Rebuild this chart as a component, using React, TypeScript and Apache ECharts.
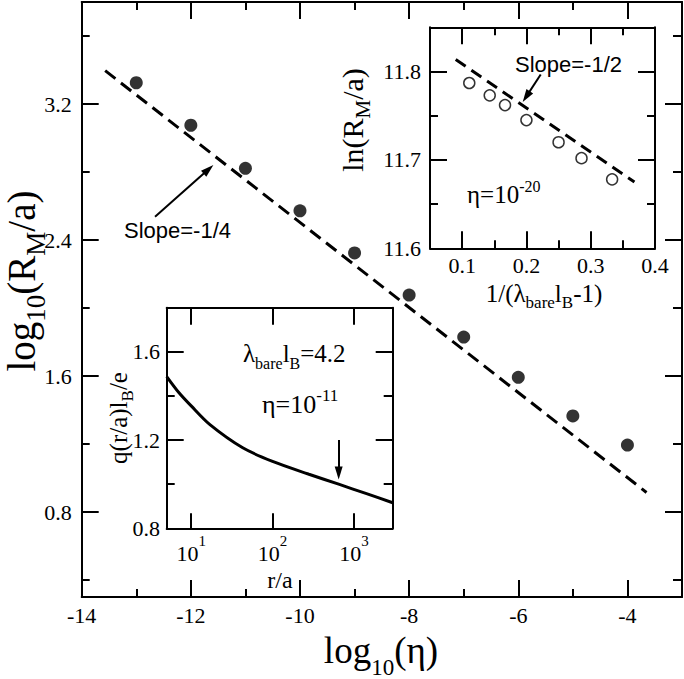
import React, { useEffect, useRef } from 'react';
import * as echarts from 'echarts';

const SERIF = 'Liberation Serif';
const SANS = 'Liberation Sans';
const BLACK = '#000';

// ---------- main plot ----------
const etaLog = [-13, -12, -11, -10, -9, -8, -7, -6, -5, -4];
const logRM = [3.325, 3.075, 2.822, 2.572, 2.324, 2.076, 1.829, 1.592, 1.365, 1.194];
const mainFitX = [-13.57, -3.65];
const mainFitY = [3.396, 0.915];
const mainXTicks = [-14, -12, -10, -8, -6, -4];
const mainXMinor = [-13, -11, -9, -7, -5];
const mainYTicks = [0.8, 1.6, 2.4, 3.2];
const mainYMinor = [0.4, 1.2, 2.0, 2.8, 3.6];
// arrow: [start, tip]
const mainArrowX = [-12.656, -11.587];
const mainArrowY = [2.537, 2.841];

// ---------- inset 1 (top right) ----------
const invLambda = [0.1111, 0.1429, 0.1667, 0.2, 0.25, 0.2857, 0.3333];
const lnRM = [11.787, 11.773, 11.762, 11.745, 11.72, 11.702, 11.678];
const in1FitX = [0.09, 0.368];
const in1FitY = [11.8135, 11.675];
const in1XTicks = [0.1, 0.2, 0.3, 0.4];
const in1XMinor = [0.15, 0.25, 0.35];
const in1YTicks = [11.6, 11.7, 11.8];
const in1YMinor = [11.65, 11.75];
const in1ArrowX = [0.2222, 0.1942];
const in1ArrowY = [11.7966, 11.7654];

// ---------- inset 2 (bottom left) ----------
const rOverA = [5, 7, 10, 17, 43, 100, 280, 650, 1400, 3000];
const qCharge = [1.488, 1.417, 1.355, 1.27, 1.165, 1.103, 1.045, 1.0, 0.958, 0.916];
const in2XTicks = [10, 100, 1000];
const in2YTicks = [0.8, 1.2, 1.6];
const in2YMinor = [1.0, 1.4];
const in2ArrowR = [650, 650];
const in2ArrowQ = [1.2, 1.021];

// ---------- helpers ----------
let ctx2d: CanvasRenderingContext2D | null = null;
function textWidth(t: string, size: number, fam: string) {
  if (!ctx2d) ctx2d = document.createElement('canvas').getContext('2d');
  ctx2d!.font = `${size}px "${fam}"`;
  return ctx2d!.measureText(t).width;
}
type Piece = { t: string; s: number; dy?: number; fam?: string };
function run(pieces: Piece[], x: number, y: number, opts: { center?: boolean; rotate?: boolean } = {}) {
  let cx = 0;
  const kids: any[] = pieces.map((p) => {
    const fam = p.fam || SERIF;
    const k = fam === SANS ? 0.3465 : 0.3375;
    const w = textWidth(p.t, p.s, fam);
    const el = {
      type: 'text',
      x: cx,
      y: (p.dy || 0) - k * p.s,
      silent: true,
      style: { text: p.t, fontSize: p.s, fontFamily: fam, fill: BLACK, align: 'left', verticalAlign: 'middle' },
    };
    cx += w;
    return el;
  });
  if (opts.center) kids.forEach((k) => (k.x -= cx / 2));
  return { type: 'group', x, y, rotation: opts.rotate ? Math.PI / 2 : 0, silent: true, children: kids };
}

function axis(gridIndex: number, position: string, min: number, max: number, values: number[], len: number, line: boolean, label?: any) {
  return {
    type: 'value',
    gridIndex,
    position,
    min,
    max,
    axisLine: { show: line, onZero: false, lineStyle: { color: BLACK, width: 2 } },
    axisTick: { show: true, inside: true, length: len, customValues: values, lineStyle: { color: BLACK, width: 2 } },
    axisLabel: label
      ? { show: true, customValues: values, color: BLACK, fontFamily: SERIF, fontSize: 22, ...label }
      : { show: false },
    splitLine: { show: false },
    axisPointer: { show: false },
  };
}

const fix1 = (v: number) => v.toFixed(1);

export default function App() {
  const ref = useRef<HTMLDivElement>(null);
  useEffect(() => {
    const chart = echarts.init(ref.current!, null, { renderer: 'svg' });
    const lx = (v: number) => Math.log10(v);
    const in2Min = lx(5);
    const in2Max = lx(3000);

    const option: any = {
      animation: false,
      backgroundColor: '#fff',
      textStyle: { fontFamily: SERIF, color: BLACK },
      grid: [
        { left: 81.7, top: 2, width: 600.3, height: 595, outerBoundsMode: 'none', containLabel: false },
        { left: 430, top: 27.3, width: 225, height: 221, outerBoundsMode: 'none', containLabel: false },
        { left: 166.7, top: 307.7, width: 226, height: 220.6, outerBoundsMode: 'none', containLabel: false },
      ],
      xAxis: [
        axis(0, 'bottom', -14, -3, mainXTicks, 17, true, { margin: 7, formatter: (v: number) => String(v) }),
        axis(0, 'bottom', -14, -3, mainXMinor, 8, false),
        axis(0, 'top', -14, -3, mainXTicks, 17, true),
        axis(0, 'top', -14, -3, mainXMinor, 8, false),
        axis(1, 'bottom', 0.05, 0.4, in1XTicks, 17, true, { margin: 6.5, formatter: fix1 }),
        axis(1, 'bottom', 0.05, 0.4, in1XMinor, 8, false),
        axis(1, 'top', 0.05, 0.4, in1XTicks, 17, true),
        axis(1, 'top', 0.05, 0.4, in1XMinor, 8, false),
        axis(2, 'bottom', in2Min, in2Max, in2XTicks.map(lx), 15, true, {
          margin: 14,
          formatter: (v: number) => `{b|10}{s|${Math.round(v)}}`,
          rich: {
            b: { fontSize: 22, fontFamily: SERIF, color: BLACK, lineHeight: 22 },
            s: { fontSize: 15, fontFamily: SERIF, color: BLACK, lineHeight: 15, padding: [0, 0, 25, 0] },
          },
        }),
        axis(2, 'top', in2Min, in2Max, in2XTicks.map(lx), 17, true),
      ],
      yAxis: [
        axis(0, 'left', 0.3, 3.8, mainYTicks, 17, true, { margin: 10, formatter: fix1 }),
        axis(0, 'left', 0.3, 3.8, mainYMinor, 8, false),
        axis(0, 'right', 0.3, 3.8, mainYTicks, 17, true),
        axis(0, 'right', 0.3, 3.8, mainYMinor, 9, false),
        axis(1, 'left', 11.6, 11.85, in1YTicks, 17, true, { margin: 9, formatter: fix1 }),
        axis(1, 'left', 11.6, 11.85, in1YMinor, 8, false),
        axis(1, 'right', 11.6, 11.85, in1YTicks, 17, true),
        axis(1, 'right', 11.6, 11.85, in1YMinor, 8, false),
        axis(2, 'left', 0.8, 1.8, in2YTicks, 17, true, { margin: 6.7, formatter: fix1 }),
        axis(2, 'left', 0.8, 1.8, in2YMinor, 8, false),
        axis(2, 'right', 0.8, 1.8, in2YTicks, 17, true),
        axis(2, 'right', 0.8, 1.8, in2YMinor, 9, false),
      ],
      series: [
        {
          id: 'mainFit',
          type: 'line',
          xAxisIndex: 0,
          yAxisIndex: 0,
          data: mainFitX.map((x, i) => [x, mainFitY[i]]),
          symbol: 'none',
          lineStyle: { color: BLACK, width: 3, type: [13, 7] },
          emphasis: { disabled: true },
          z: 2,
        },
        {
          type: 'scatter',
          xAxisIndex: 0,
          yAxisIndex: 0,
          data: etaLog.map((x, i) => [x, logRM[i]]),
          symbol: 'circle',
          symbolSize: 13,
          itemStyle: { color: BLACK },
          emphasis: { disabled: true },
          z: 3,
        },
        {
          id: 'in1Fit',
          type: 'line',
          xAxisIndex: 4,
          yAxisIndex: 4,
          data: in1FitX.map((x, i) => [x, in1FitY[i]]),
          symbol: 'none',
          lineStyle: { color: BLACK, width: 3, type: [12, 7] },
          emphasis: { disabled: true },
          z: 2,
        },
        {
          type: 'scatter',
          xAxisIndex: 4,
          yAxisIndex: 4,
          data: invLambda.map((x, i) => [x, lnRM[i]]),
          symbol: 'circle',
          symbolSize: 11,
          itemStyle: { color: '#fff', borderColor: BLACK, borderWidth: 1.5 },
          emphasis: { disabled: true },
          z: 3,
        },
        {
          id: 'in2Curve',
          type: 'line',
          xAxisIndex: 8,
          yAxisIndex: 8,
          data: rOverA.map((r, i) => [lx(r), qCharge[i]]),
          symbol: 'none',
          smooth: 0.3,
          lineStyle: { color: BLACK, width: 3 },
          emphasis: { disabled: true },
          z: 2,
        },
      ],
      graphic: {
        elements: [
          run(
            [
              { t: 'log', s: 39 },
              { t: '10', s: 27, dy: 10 },
              { t: '(R', s: 39 },
              { t: 'M', s: 27, dy: 10 },
              { t: '/a)', s: 39 },
            ],
            35,
            281,
            { center: true, rotate: true }
          ),
          run(
            [
              { t: 'log', s: 37 },
              { t: '10', s: 23, dy: 12 },
              { t: '(η)', s: 37 },
            ],
            381,
            663,
            { center: true }
          ),
          run([{ t: 'Slope=-1/4', s: 22, fam: SANS }], 124, 238),
          run([{ t: 'Slope=-1/2', s: 22, fam: SANS }], 515, 72),
          run(
            [
              { t: 'ln(R', s: 30 },
              { t: 'M', s: 21, dy: 7 },
              { t: '/a)', s: 30 },
            ],
            363,
            120,
            { center: true, rotate: true }
          ),
          run(
            [
              { t: '1/(λ', s: 25 },
              { t: 'bare', s: 17, dy: 6 },
              { t: 'l', s: 25 },
              { t: 'B', s: 17, dy: 6 },
              { t: '-1)', s: 25 },
            ],
            544,
            302,
            { center: true }
          ),
          run(
            [
              { t: 'η=10', s: 25 },
              { t: '-20', s: 16, dy: -11 },
            ],
            467,
            203
          ),
          run(
            [
              { t: 'λ', s: 25 },
              { t: 'bare', s: 16, dy: 7 },
              { t: 'l', s: 25 },
              { t: 'B', s: 16, dy: 7 },
              { t: '=4.2', s: 25 },
            ],
            243,
            362
          ),
          run(
            [
              { t: 'η=10', s: 26 },
              { t: '-11', s: 17, dy: -12 },
            ],
            262,
            413
          ),
          run(
            [
              { t: 'q(r/a)l', s: 25 },
              { t: 'B', s: 17, dy: 6 },
              { t: '/e', s: 25 },
            ],
            127,
            418,
            { center: true, rotate: true }
          ),
          run([{ t: 'r/a', s: 24 }], 280, 588, { center: true }),
        ],
      },
    };
    chart.setOption(option);

    // arrows: shaft (markLine) + head (markPoint), placed via the axes' own scales
    const HEAD_W = 8;
    const HEAD_H = 13;
    const arrowParts = (seriesId: string, xs: number[], ys: number[]) => {
      const p0 = chart.convertToPixel({ seriesId }, [xs[0], ys[0]]) as number[];
      const p1 = chart.convertToPixel({ seriesId }, [xs[1], ys[1]]) as number[];
      const dx = p1[0] - p0[0];
      const dy = p1[1] - p0[1];
      const L = Math.hypot(dx, dy) || 1;
      const ux = dx / L;
      const uy = dy / L;
      const cx = p1[0] - ux * (HEAD_H / 2);
      const cy = p1[1] - uy * (HEAD_H / 2);
      const rot = (Math.atan2(-ux, -uy) * 180) / Math.PI;
      return {
        id: seriesId,
        markLine: {
          silent: true,
          animation: false,
          symbol: ['none', 'none'],
          lineStyle: { type: 'solid', color: BLACK, width: 2 },
          label: { show: false },
          emphasis: { disabled: true },
          data: [[{ x: p0[0], y: p0[1] }, { x: cx, y: cy }]],
        },
        markPoint: {
          silent: true,
          animation: false,
          symbol: 'triangle',
          label: { show: false },
          itemStyle: { color: BLACK },
          emphasis: { disabled: true },
          data: [{ x: cx, y: cy, symbolSize: [HEAD_W, HEAD_H], symbolRotate: rot }],
        },
      };
    };
    chart.setOption({
      series: [
        arrowParts('mainFit', mainArrowX, mainArrowY),
        arrowParts('in1Fit', in1ArrowX, in1ArrowY),
        arrowParts('in2Curve', in2ArrowR.map(lx), in2ArrowQ),
      ],
    });
    return () => chart.dispose();
  }, []);
  return <div ref={ref} style={{ position: 'fixed', left: 0, top: 0, width: 684, height: 679, background: '#fff' }} />;
}
